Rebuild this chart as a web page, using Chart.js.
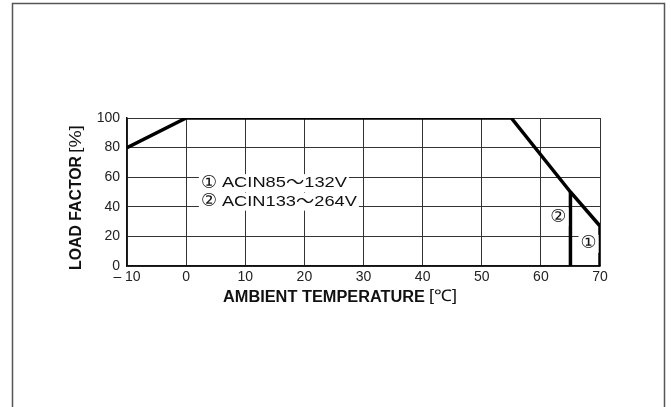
<!DOCTYPE html>
<html>
<head>
<meta charset="utf-8">
<title>Load factor vs ambient temperature</title>
<script src="https://cdn.jsdelivr.net/npm/chart.js@4/dist/chart.umd.min.js"></script>
<style>
  body { margin: 0; background: #fff; }
  canvas { display: block; }
</style>
</head>
<body>
<canvas id="derating" width="671" height="407"></canvas>
<script>
// derating curve
const temps1 = [-10, 0, 55, 65, 70, 70]
const load1 = [80, 100, 100, 50, 27, 0]
// curve 2 leaves curve 1 at 65 C and drops straight down
const temps2 = [65, 65]
const load2 = [50, 0]

const xMin = -10, xMax = 70, xStep = 10
const yMin = 0, yMax = 100, yStep = 20

const xTitle = 'AMBIENT TEMPERATURE'
const xUnit = '[℃]'
const yTitle = 'LOAD FACTOR'
const yUnit = '[%]'
const noteTags = ['①', '②']
const notes = ['ACIN85～132V', 'ACIN133～264V']

const toPoints = (xs, ys) => xs.map((x, i) => ({ x, y: ys[i] }))

const INK = '#111'
const SANS = '"Liberation Sans", Arial, sans-serif'
const TAG_FONT = '18px "DejaVu Sans", "Noto Sans CJK JP", sans-serif'
const NOTE_FONT = '15px "Liberation Sans", "DejaVu Sans", "Noto Sans CJK JP", sans-serif'

// outer frame around the figure
const framePlugin = {
  id: 'frame',
  beforeDraw(chart) {
    const ctx = chart.ctx
    ctx.save()
    ctx.fillStyle = '#fff'
    ctx.fillRect(0, 0, chart.width, chart.height)
    ctx.strokeStyle = '#555'
    ctx.lineWidth = 1.5
    ctx.strokeRect(12.5, 3.5, 652, 440)
    ctx.restore()
  }
}

// draw text squeezed/stretched to a given width
const fitText = (ctx, text, x, y, width) => {
  const w = ctx.measureText(text).width
  ctx.save()
  ctx.translate(x, y)
  ctx.scale(width / w, 1)
  ctx.fillText(text, 0, 0)
  ctx.restore()
}

// axis titles, drawn by hand so the bold part and the bracket can differ
const titlesPlugin = {
  id: 'titles',
  afterDraw(chart) {
    const ctx = chart.ctx
    ctx.save()
    ctx.fillStyle = INK
    ctx.textBaseline = 'middle'
    ctx.textAlign = 'left'

    // x title
    ctx.font = 'bold 16px ' + SANS
    fitText(ctx, xTitle, 223, 298, 202)
    ctx.font = '16px ' + SANS
    fitText(ctx, xUnit, 429, 297, 28)

    // y title, rotated
    ctx.save()
    ctx.translate(77, 270)
    ctx.rotate(-Math.PI / 2)
    ctx.font = 'bold 16px ' + SANS
    fitText(ctx, yTitle, 0, 0, 114)
    ctx.font = '16px ' + SANS
    fitText(ctx, yUnit, 117, 0, 28)
    ctx.restore()

    ctx.restore()
  }
}

// legend text and curve tags inside the plot, on white patches
const notesPlugin = {
  id: 'notes',
  afterDatasetsDraw(chart) {
    const { ctx, scales: { x, y } } = chart
    const patch = (px, py, w) => {
      ctx.fillStyle = '#fff'
      ctx.fillRect(px - 2, py - 9, w + 4, 18)
      ctx.fillStyle = INK
    }
    const tag = (i, vx, vy) => {
      const px = x.getPixelForValue(vx)
      const py = y.getPixelForValue(vy)
      ctx.font = TAG_FONT
      patch(px, py, ctx.measureText(noteTags[i]).width)
      ctx.fillText(noteTags[i], px, py)
    }
    const note = (i, vx, vy, width) => {
      const px = x.getPixelForValue(vx)
      const py = y.getPixelForValue(vy)
      patch(px, py, width)
      ctx.font = TAG_FONT
      ctx.fillText(noteTags[i], px, py)
      ctx.font = NOTE_FONT
      fitText(ctx, notes[i], px + 21, py, width - 21)
    }
    ctx.save()
    ctx.textBaseline = 'middle'
    ctx.textAlign = 'left'
    note(0, 2.5, 56, 146)
    note(1, 2.5, 43.5, 156)
    tag(1, 61.6, 33)
    tag(0, 66.7, 15)
    ctx.restore()
  }
}

const ctx = document.getElementById('derating').getContext('2d')
new Chart(ctx, {
  type: 'line',
  data: {
    datasets: [
      {
        data: toPoints(temps1, load1),
        borderColor: '#000',
        borderWidth: 3.5,
        pointRadius: 0,
        fill: false,
        tension: 0
      },
      {
        data: toPoints(temps2, load2),
        borderColor: '#000',
        borderWidth: 3.5,
        pointRadius: 0,
        fill: false,
        tension: 0
      }
    ]
  },
  options: {
    responsive: false,
    animation: false,
    devicePixelRatio: 1,
    layout: { padding: { left: 14, right: 71, top: 118, bottom: 121 } },
    plugins: {
      legend: { display: false },
      tooltip: { enabled: false }
    },
    scales: {
      x: {
        type: 'linear',
        min: xMin,
        max: xMax,
        afterFit: (scale) => { scale.height = 20 },
        ticks: {
          stepSize: xStep,
          padding: 3,
          color: '#222',
          font: { family: SANS, size: 14 },
          callback: (v) => (v < 0 ? '– ' + Math.abs(v) : String(v))
        },
        grid: { color: '#333', lineWidth: 1, drawTicks: false },
        border: { color: '#111', width: 1.5 }
      },
      y: {
        min: yMin,
        max: yMax,
        afterFit: (scale) => { scale.width = 127 - 14 },
        ticks: {
          stepSize: yStep,
          padding: 7,
          color: '#222',
          font: { family: SANS, size: 14 }
        },
        grid: { color: '#333', lineWidth: 1, drawTicks: false },
        border: { color: '#111', width: 1.5 }
      }
    }
  },
  plugins: [framePlugin, titlesPlugin, notesPlugin]
})
</script>
</body>
</html>
